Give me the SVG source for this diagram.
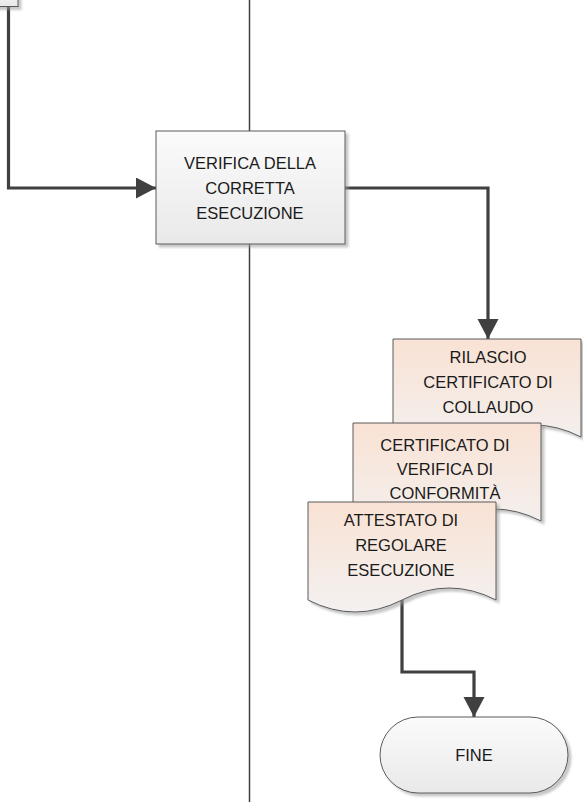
<svg xmlns="http://www.w3.org/2000/svg" width="583" height="802" viewBox="0 0 583 802">
<style>
  .lbl{font-family:"Liberation Sans",Arial,sans-serif;font-size:16.5px;fill:#1a1a1a;text-anchor:middle;dominant-baseline:central}
  .shape{stroke:#5a5a5a;stroke-width:1}
  .conn{fill:none;stroke:#404040;stroke-width:3.2;stroke-linejoin:miter}
</style>
<defs>
  <linearGradient id="gGray" x1="0" y1="0" x2="0" y2="1">
    <stop offset="0" stop-color="#fbfbfb"/>
    <stop offset="1" stop-color="#e9e9e9"/>
  </linearGradient>
  <linearGradient id="gPeach" x1="0" y1="0" x2="0" y2="1">
    <stop offset="0" stop-color="#f9e2d4"/>
    <stop offset="1" stop-color="#f3f1f0"/>
  </linearGradient>
  <filter id="sh" x="-10%" y="-10%" width="130%" height="130%">
    <feDropShadow dx="3" dy="3" stdDeviation="1" flood-color="#9a9a9a" flood-opacity="0.55"/>
  </filter>
  <marker id="arr" markerUnits="userSpaceOnUse" markerWidth="22" markerHeight="22" refX="20" refY="10.5" orient="auto">
    <path d="M0,0 L20,10.5 L0,21 Z" fill="#404040"/>
  </marker>
  <path id="doc" d="M0,0 H188 V98 Q141,74 94,98 Q47,122 0,98 Z"/>
</defs>

<!-- swimlane divider -->
<line x1="249.5" y1="0" x2="249.5" y2="802" stroke="#404040" stroke-width="1.5"/>

<g id="connectors">
  <path class="conn" d="M8.5,7 V188 H156" marker-end="url(#arr)"/>
  <path class="conn" d="M345,188 H488 V339" marker-end="url(#arr)"/>
  <path class="conn" d="M402,600 V672 H474 V717" marker-end="url(#arr)"/>
</g>

<g id="node-top">
  <rect class="shape" x="-10" y="-20" width="28" height="26.5" fill="url(#gGray)" filter="url(#sh)"/>
</g>

<g id="node-verifica">
  <rect class="shape" x="156" y="131" width="189" height="113" fill="url(#gGray)" filter="url(#sh)"/>
  <text class="lbl" x="250" y="163">VERIFICA DELLA</text>
  <text class="lbl" x="250" y="188">CORRETTA</text>
  <text class="lbl" x="250" y="213">ESECUZIONE</text>
</g>

<g id="node-rilascio">
  <use href="#doc" x="393" y="339" class="shape" fill="url(#gPeach)" filter="url(#sh)"/>
  <text class="lbl" x="488" y="357">RILASCIO</text>
  <text class="lbl" x="488" y="382">CERTIFICATO DI</text>
  <text class="lbl" x="488" y="407">COLLAUDO</text>
</g>

<g id="node-certificato">
  <use href="#doc" x="353" y="423" class="shape" fill="url(#gPeach)" filter="url(#sh)"/>
  <text class="lbl" x="445" y="444.5">CERTIFICATO DI</text>
  <text class="lbl" x="445" y="469">VERIFICA DI</text>
  <text class="lbl" x="445" y="492.5">CONFORMITÀ</text>
</g>

<g id="node-attestato">
  <use href="#doc" x="308" y="502" class="shape" fill="url(#gPeach)" filter="url(#sh)"/>
  <text class="lbl" x="401" y="520">ATTESTATO DI</text>
  <text class="lbl" x="401" y="545">REGOLARE</text>
  <text class="lbl" x="401" y="570">ESECUZIONE</text>
</g>

<g id="node-fine">
  <rect class="shape" x="380" y="717" width="188" height="76" rx="38" ry="38" fill="url(#gGray)" filter="url(#sh)"/>
  <text class="lbl" x="474" y="755">FINE</text>
</g>
</svg>
